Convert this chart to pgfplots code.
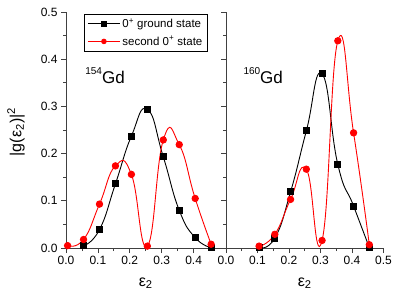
\documentclass[border=0pt]{standalone}
\usepackage{fontspec}
\setmainfont{Liberation Sans}
\usepackage{pgfplots}
\usepackage{pgfplotstable}
\pgfplotsset{compat=1.18}

% 154Gd: ground state and second 0+ state
\pgfplotstableread{
x y
0.055 0.005
0.105 0.039
0.155 0.136
0.205 0.237
0.255 0.294
0.305 0.193
0.355 0.080
0.405 0.022
0.455 0.001
}\gsA
\pgfplotstableread{
x y
0.005 0.005
0.055 0.018
0.105 0.093
0.155 0.174
0.205 0.156
0.255 0.004
0.305 0.229
0.355 0.219
0.405 0.105
0.455 0.008
}\exA
% 160Gd: ground state and second 0+ state
\pgfplotstableread{
x y
0.105 0.001
0.155 0.021
0.205 0.119
0.255 0.248
0.305 0.369
0.355 0.177
0.405 0.089
0.455 0.001
}\gsB
\pgfplotstableread{
x y
0.105 0.004
0.155 0.029
0.205 0.103
0.255 0.167
0.305 0.016
0.355 0.439
0.405 0.244
0.455 0.007
}\exB

\pgfplotsset{
  panel/.style={
    scale only axis,
    height=236pt,
    xmin=0, xmax=0.5, ymin=0, ymax=0.5,
    axis lines*=left,
    axis line style={line width=0.9pt, black!75},
    tick style={line width=0.7pt, black!75},
    tick align=outside,
    major tick length=5pt,
    minor tick length=3pt,
    ytick={0,0.1,0.2,0.3,0.4,0.5},
    minor ytick={0.05,0.15,0.25,0.35,0.45},
    tick label style={font=\fontsize{12}{14}\selectfont},
    /pgf/number format/.cd, fixed, fixed zerofill, precision=1, assume math mode=true,
    /pgfplots/.cd,
    xlabel={ε\textsubscript{2}},
    xlabel style={at={(axis description cs:0.5,0)}, anchor=base, yshift=-38pt,
      font=\fontsize{16}{18}\selectfont},
    clip=true,
  },
  gs/.style={black, line width=0.9pt, smooth, tension=0.85, mark=square*, mark size=3pt,
    mark options={solid, fill=black}},
  ex/.style={red, line width=0.9pt, smooth, tension=0.85, mark=*, mark size=3.2pt,
    mark options={solid, fill=red}},
}

\begin{document}
\begin{tikzpicture}
\useasboundingbox (-66pt,-42pt) rectangle (337pt,248pt);

\begin{axis}[panel, width=159.5pt,
  xtick={0,0.1,0.2,0.3,0.4},
  minor xtick={0.05,0.15,0.25,0.35,0.45},
  legend style={at={(0.114,0.992)}, anchor=north west, draw=black, line width=0.6pt,
    font=\fontsize{11.5}{13}\selectfont, inner xsep=3pt, inner ysep=2.5pt,
    row sep=3pt, cells={anchor=west}},
  legend image code/.code={\draw[mark repeat=2, mark phase=2, #1, mark size=2.3pt]
    plot coordinates {(0pt,0pt) (16pt,0pt) (32pt,0pt)};},
]
\addplot[gs] table {\gsA};
\addlegendentry{0\textsuperscript{+} ground state}
\addplot[ex] table {\exA};
\addlegendentry{second 0\textsuperscript{+} state}
\node[anchor=base west, inner sep=0pt] at (axis cs:0.06,0.348)
  {\fontsize{10}{10}\selectfont\raisebox{9pt}{154}\fontsize{17}{20}\selectfont Gd};
\end{axis}

\begin{axis}[panel, width=157.5pt, at={(160pt,0pt)},
  xtick={0,0.1,0.2,0.3,0.4,0.5},
  minor xtick={0.05,0.15,0.25,0.35,0.45},
  yticklabels={},
]
\addplot[gs] table {\gsB};
\addplot[ex] table {\exB};
\node[anchor=base west, inner sep=0pt] at (axis cs:0.055,0.348)
  {\fontsize{10}{10}\selectfont\raisebox{9pt}{160}\fontsize{17}{20}\selectfont Gd};
\end{axis}

\node[rotate=90, font=\fontsize{16}{18}\selectfont] at (-50pt,116pt)
  {|g(ε\textsubscript{2})|\textsuperscript{2}};
\end{tikzpicture}
\end{document}
